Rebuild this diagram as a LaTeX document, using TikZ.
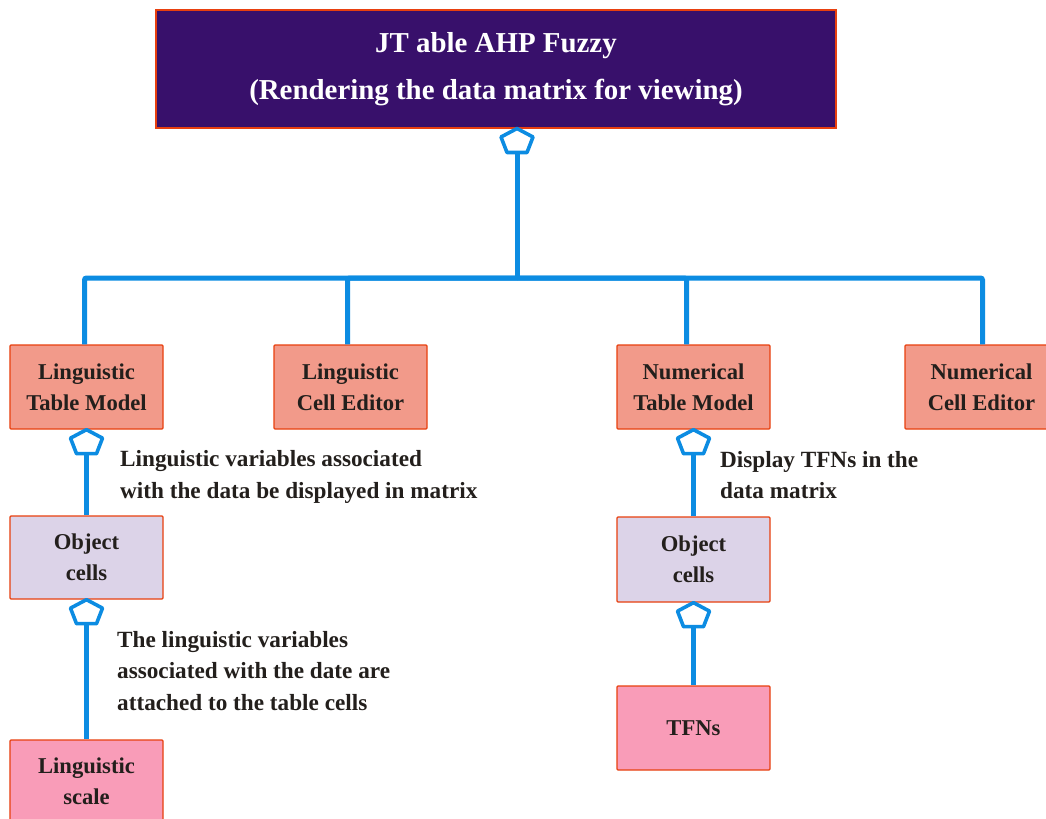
\documentclass[tikz,border=0pt]{standalone}
\usepackage{fontspec}
\setmainfont{Liberation Serif}
\definecolor{titlefill}{HTML}{38106B}
\definecolor{edge}{HTML}{E8400F}
\definecolor{salmon}{HTML}{F29A8A}
\definecolor{lav}{HTML}{DCD3E8}
\definecolor{pinkbox}{HTML}{F99CB8}
\definecolor{linkblue}{HTML}{0C8CE2}
\definecolor{ink}{HTML}{231F1C}
\tikzset{
  boxbase/.style={draw=edge, line width=1.3bp, rounded corners=1bp, minimum width=153bp, minimum height=84bp,
    align=center, text=ink, font=\fontsize{22.7}{31}\selectfont\bfseries, inner sep=0pt},
  midbox/.style={boxbase, fill=salmon},
  objbox/.style={boxbase, fill=lav},
  leafbox/.style={boxbase, fill=pinkbox},
  titlebox/.style={draw=edge, line width=1.8bp, fill=titlefill, minimum width=680bp, minimum height=118bp,
    align=center, text=white, font=\fontsize{29}{47}\selectfont\bfseries, inner sep=0pt},
  conn/.style={draw=linkblue, line width=5bp, rounded corners=2bp},
  pentline/.style={draw=linkblue, line width=3.6bp, line join=round, fill=white},
  note/.style={anchor=west, align=left, text=ink, font=\fontsize{23.3}{32}\selectfont\bfseries, inner sep=0pt},
  agg/.pic={\path[pentline] (0,0) -- (16,8.5) -- (10,24) -- (-10,24) -- (-16,8.5) -- cycle;
            \coordinate (-b) at (0,24);}
}
\begin{document}
\begin{tikzpicture}[x=1bp,y=-1bp]
\useasboundingbox (0,0) rectangle (1046,819);
\fill[white] (0,0) rectangle (1046,819);

\node[titlebox] (top) at (496,69) {JT able AHP Fuzzy\\(Rendering the data matrix for viewing)};

\node[midbox] (ltm) at (86.5,387) {Linguistic\\Table Model};
\node[midbox] (lce) at (350.5,387) {Linguistic\\Cell Editor};
\node[midbox] (ntm) at (693.5,387) {Numerical\\Table Model};
\node[midbox] (nce) at (981.5,387) {Numerical\\Cell Editor};

\node[objbox, minimum height=83bp] (loc) at (86.5,557.5) {Object\\cells};
\node[leafbox, minimum height=83bp] (lsc) at (86.5,781.5) {Linguistic\\scale};

\node[objbox, minimum height=85bp] (roc) at (693.5,559.5) {Object\\cells};
\node[leafbox] (tfn) at (693.5,728) {TFNs};

% bus
\coordinate (bus) at (517,278);
\draw[conn] (517,153) -- (bus);
\draw[conn] (bus) -| ([xshift=-2bp]ltm.north);
\draw[conn] (bus) -| ([xshift=-3bp]lce.north);
\draw[conn] (bus) -| ([xshift=-7bp]ntm.north);
\draw[conn] (bus) -| ([xshift=1bp]nce.north);
\pic (p0) at (517,128.5) {agg};

% left chain
\pic (p1) at (ltm.south) {agg};
\draw[conn] (p1-b) -- (loc.north);
\pic (p2) at (loc.south) {agg};
\draw[conn] (p2-b) -- (lsc.north);

% right chain
\pic (p3) at (ntm.south) {agg};
\draw[conn] (p3-b) -- (roc.north);
\pic (p4) at (roc.south) {agg};
\draw[conn] (p4-b) -- (tfn.north);

% notes
\node[note] (n1) at (120,477) {Linguistic variables associated\\with the data be displayed in matrix};
\node[note] (n2) at (117,671) {The linguistic variables\\associated with the date are\\attached to the table cells};
\node[note] (n3) at (720,475) {Display TFNs in the\\data matrix};
\end{tikzpicture}
\end{document}
